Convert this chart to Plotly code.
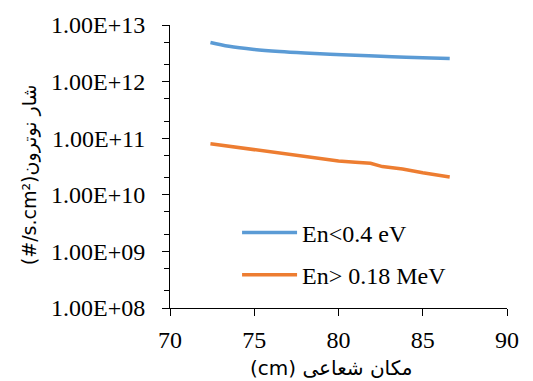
import plotly.graph_objects as go

blue_x = [72.4, 73.5, 75.0, 76.5, 78.0, 79.5, 81.0, 82.5, 84.0, 85.5, 86.6]
blue_y = [4.9e12, 4.2e12, 3.7e12, 3.4e12, 3.2e12, 3.05e12, 2.92e12, 2.8e12, 2.7e12, 2.62e12, 2.55e12]

orange_x = [72.4, 74.0, 75.5, 77.0, 78.0, 79.0, 80.0, 81.0, 81.9, 82.6, 83.8, 85.0, 86.6]
orange_y = [8.0e10, 6.9e10, 6.0e10, 5.2e10, 4.7e10, 4.4e10, 3.95e10, 3.75e10, 3.6e10, 3.15e10, 2.85e10, 2.45e10, 2.06e10]

ytick_vals = [1e8, 1e9, 1e10, 1e11, 1e12, 1e13]
ytick_text = ["1.00E+08", "1.00E+09", "1.00E+10", "1.00E+11", "1.00E+12", "1.00E+13"]
xtick_vals = [70, 75, 80, 85, 90]

x_title = "(cm) مکان شعاعی"
y_title = "\u200e(#/s.cm²)\u200eشار نوترون"

serif = "'Times New Roman', 'Liberation Serif', serif"
sans = "'DejaVu Sans', sans-serif"

fig = go.Figure()
fig.add_trace(go.Scatter(x=blue_x, y=blue_y, mode="lines", name="En<0.4 eV",
                         line=dict(color="#5B9BD5", width=3.5, shape="spline"),
                         legendgroup="a"))
fig.add_trace(go.Scatter(x=orange_x, y=orange_y, mode="lines", name="En> 0.18 MeV",
                         line=dict(color="#ED7D31", width=3.5),
                         legendgroup="b"))

fig.update_layout(
    width=533, height=381,
    margin=dict(l=170, r=26, t=20, b=73),
    paper_bgcolor="white", plot_bgcolor="white",
    font=dict(family=serif, size=24, color="black"),
    showlegend=True,
    legend=dict(x=0.199, y=0.345, xanchor="left", yanchor="top",
                bgcolor="rgba(0,0,0,0)", font=dict(family=serif, size=24),
                tracegroupgap=8, itemwidth=55),
    xaxis=dict(range=[70, 90], tickvals=xtick_vals, ticks="outside", ticklen=7,
               tickwidth=1, tickcolor="black", showline=True, linecolor="black",
               linewidth=1, showgrid=False, zeroline=False,
               tickfont=dict(family=serif, size=24), ticklabelstandoff=3),
    yaxis=dict(type="log", range=[8, 13], tickvals=ytick_vals, ticktext=ytick_text,
               ticks="outside", ticklen=7, tickwidth=1, tickcolor="black",
               showline=True, linecolor="black", linewidth=1, showgrid=False,
               zeroline=False, tickfont=dict(family=serif, size=24), ticklabelstandoff=12,
               minor=dict(ticks="outside", ticklen=5, tickcolor="black", showgrid=False)),
    annotations=[
        dict(text=x_title, xref="paper", yref="paper", x=0.478, y=-0.213,
             xanchor="center", yanchor="middle", showarrow=False,
             font=dict(family=sans, size=20, color="black")),
        dict(text=y_title, xref="paper", yref="paper", x=-0.415, y=0.47,
             xanchor="center", yanchor="middle", showarrow=False, textangle=-90,
             font=dict(family=sans, size=19, color="black")),
    ],
)

fig.write_html("out.html")
